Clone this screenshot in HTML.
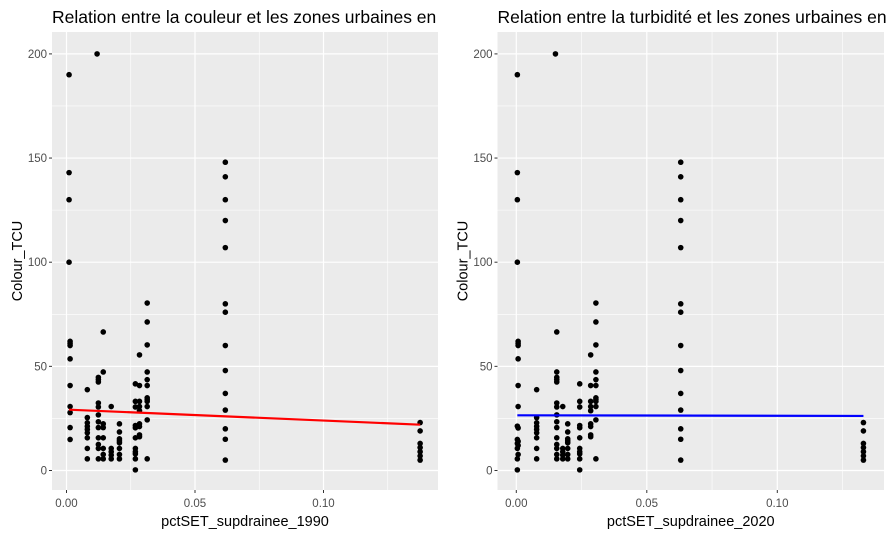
<!DOCTYPE html>
<html><head><meta charset="utf-8"><style>
body{margin:0;background:#fff;}
svg{display:block;font-family:"Liberation Sans",Arial,sans-serif;}
</style></head><body>
<svg id="chart" width="892" height="535"></svg>
<script>
// Left panel data (1990)
const leftX = [0.0010,0.0010,0.0010,0.0010,0.0014,0.0014,0.0014,0.0014,0.0014,0.0014,0.0014,0.0014,0.0014,
 0.0081,0.0081,0.0081,0.0081,0.0081,0.0081,0.0081,0.0081,0.0081,
 0.0119,0.0124,0.0124,0.0124,0.0124,0.0124,0.0124,0.0124,0.0124,0.0124,0.0124,0.0124,0.0124,
 0.0143,0.0143,0.0143,0.0143,0.0143,0.0143,0.0143,0.0143,
 0.0174,0.0174,0.0174,0.0174,0.0174,
 0.0206,0.0206,0.0206,0.0206,0.0206,0.0206,0.0206,0.0206,
 0.0268,0.0268,0.0268,0.0268,0.0268,0.0268,0.0268,0.0268,0.0268,0.0268,0.0268,
 0.0284,0.0284,0.0284,0.0284,0.0284,0.0284,0.0284,0.0284,0.0284,
 0.0314,0.0314,0.0314,0.0314,0.0314,0.0314,0.0314,0.0314,0.0314,0.0314,0.0314,0.0314,
 0.0618,0.0618,0.0618,0.0618,0.0618,0.0618,0.0618,0.0618,0.0618,0.0618,0.0618,0.0618,0.0618,0.0618,
 0.1376,0.1376,0.1376,0.1376,0.1376,0.1376,0.1376];
const leftY = [190,143,130,100,62,61,60,53.6,40.8,30.7,27.8,20.6,14.9,
 10.6,38.8,25.4,22.9,21.2,19.7,18.1,15.7,5.6,
 200,44.7,43.6,42.5,32.4,30.5,26.7,23.4,20.6,15.7,12.5,10.6,5.6,
 66.5,47.3,22.4,20.6,15.7,10.6,7.7,5.6,
 30.7,10.6,9,7.4,5.6,
 22.4,18.5,15.2,14.2,13.3,10.6,7.7,5.6,
 41.6,33.2,30.5,21.6,20.5,15.7,10.6,9,8,5.6,0.3,
 55.5,40.8,33.2,30.7,28.7,22.4,21.1,17.1,16.2,
 80.4,71.3,60.3,47.3,43.6,40.8,34.9,34.1,33.2,30.7,24.3,5.6,
 148,141,130,120,107,80,76,60,48,37,29,20,15,5,
 23,19,13,11,9,7,5];
const leftFitX = [0.0010,0.1376];
const leftFitY = [29.2,22.0];

// Right panel data (2020)
const rightX = [0.0004,0.0004,0.0004,0.0004,0.0007,0.0007,0.0007,0.0007,0.0007,0.0007,0.0004,0.0007,0.0004,0.0007,0.0004,0.0007,0.0004,0.0007,0.0004,0.0004,
 0.0078,0.0078,0.0078,0.0078,0.0078,0.0078,0.0078,0.0078,0.0078,
 0.0150,0.0155,0.0155,0.0155,0.0155,0.0155,0.0155,0.0155,0.0155,0.0155,0.0155,0.0155,0.0155,0.0155,0.0155,0.0155,
 0.0178,0.0178,0.0178,0.0178,0.0178,
 0.0197,0.0197,0.0197,0.0197,0.0197,0.0197,0.0197,0.0197,
 0.0243,0.0243,0.0243,0.0243,0.0243,0.0243,0.0243,0.0243,0.0243,0.0243,0.0243,
 0.0285,0.0285,0.0285,0.0285,0.0285,0.0285,0.0285,0.0285,0.0285,
 0.0305,0.0305,0.0305,0.0305,0.0305,0.0305,0.0305,0.0305,0.0305,0.0305,0.0305,0.0305,
 0.063,0.063,0.063,0.063,0.063,0.063,0.063,0.063,0.063,0.063,0.063,0.063,0.063,0.063,
 0.133,0.133,0.133,0.133,0.133,0.133,0.133];
const rightY = [190,143,130,100,62,61,60,53.6,40.8,30.7,21.3,20.4,14.9,14,13,12,10.6,7.7,5.6,0.3,
 38.8,25.4,22.9,21.2,19.7,18.1,15.7,10.6,5.6,
 200,66.5,47.3,44.7,43.6,42.5,32.4,30.5,26.7,23.4,20.6,15.7,12.5,10.6,7.7,5.6,
 30.7,10.6,9,7.4,5.6,
 22.4,18.5,15.2,14.2,13.3,10.6,7.7,5.6,
 41.6,33.2,30.5,21.6,20.5,15.7,10.6,9,8,5.6,0.3,
 55.5,40.8,33.2,30.7,28.7,22.4,21.1,17.1,16.2,
 80.4,71.3,60.3,47.3,43.6,40.8,34.9,34.1,33.2,30.7,24.3,5.6,
 148,141,130,120,107,80,76,60,48,37,29,20,15,5,
 23,19,13,11,9,7,5];
const rightFitX = [0.0004,0.133];
const rightFitY = [26.5,26.2];

const xTicks = [0, 0.05, 0.10];
const xTickLabels = ["0.00","0.05","0.10"];
const yTicks = [0,50,100,150,200];
const yTickLabels = ["0","50","100","150","200"];

const NS="http://www.w3.org/2000/svg";
const svg=document.getElementById('chart');
function mk(tag,attrs,parent){const e=document.createElementNS(NS,tag);for(const k in attrs)e.setAttribute(k,attrs[k]);(parent||svg).appendChild(e);return e;}

function panel(o){
  const g=mk('g',{});
  
  
  const L=o.left,R=o.right,T=32,B=490;
  const sx=v=>o.x0+v*o.k;
  const sy=v=>470.5-v*2.083;
  const bg=mk('rect',{x:L,y:T,width:R-L,height:B-T,fill:'#EBEBEB'},g);
  
  
  for(let i=0;i<xTicks.length;i++){const v=xTicks[i]+0.025;if(sx(v)<R)mk('line',{x1:sx(v),x2:sx(v),y1:T,y2:B,stroke:'#fff','stroke-width':0.6},g);}
  for(let i=0;i<yTicks.length-1;i++){const v=yTicks[i]+25;mk('line',{x1:L,x2:R,y1:sy(v),y2:sy(v),stroke:'#fff','stroke-width':0.6},g);}
  xTicks.forEach((v,i)=>{
    mk('line',{x1:sx(v),x2:sx(v),y1:T,y2:B,stroke:'#fff','stroke-width':1.2},g);
    mk('line',{x1:sx(v),x2:sx(v),y1:B,y2:B+3,stroke:'#333','stroke-width':1},g);
    const t=mk('text',{x:sx(v),y:507,'text-anchor':'middle','font-size':11.5,fill:'#4D4D4D'},g);
    t.textContent=xTickLabels[i];
    
    
  });
  yTicks.forEach((v,i)=>{
    mk('line',{x1:L,x2:R,y1:sy(v),y2:sy(v),stroke:'#fff','stroke-width':1.2},g);
    mk('line',{x1:L-3,x2:L,y1:sy(v),y2:sy(v),stroke:'#333','stroke-width':1},g);
    const t=mk('text',{x:L-5,y:sy(v)+4,'text-anchor':'end','font-size':11.5,fill:'#4D4D4D'},g);
    t.textContent=yTickLabels[i];
    
    
  });
  o.xs.forEach((x,i)=>{
    const c=mk('circle',{cx:sx(x),cy:sy(o.ys[i]),r:2.8,fill:'#000'},g);
    
    
  });
  const ln=mk('line',{x1:sx(o.fx[0]),y1:sy(o.fy[0]),x2:sx(o.fx[1]),y2:sy(o.fy[1]),stroke:o.color,'stroke-width':2.2},g);
  
  
  const xt=mk('text',{x:(L+R)/2,y:526,'text-anchor':'middle','font-size':14.5,fill:'#000'},g);
  xt.textContent=o.xlabel;
  
  
  const yt=mk('text',{x:0,y:0,'text-anchor':'middle','font-size':14.5,fill:'#000',transform:`translate(${L-30},${(T+B)/2}) rotate(-90)`},g);
  yt.textContent='Colour_TCU';
  
  
  const tt=mk('text',{x:L,y:23,'font-size':17.5,fill:'#000'},g);
  tt.textContent=o.title;
  
  
}
panel({name:'panel-1990',left:52,right:438,x0:66.5,k:2570,xs:leftX,ys:leftY,fx:leftFitX,fy:leftFitY,color:'#FF0000',xlabel:'pctSET_supdrainee_1990',title:'Relation entre la couleur et les zones urbaines en'});
panel({name:'panel-2020',left:497.5,right:884,x0:516.3,k:2610,xs:rightX,ys:rightY,fx:rightFitX,fy:rightFitY,color:'#0000FF',xlabel:'pctSET_supdrainee_2020',title:'Relation entre la turbidité et les zones urbaines en'});
</script>
</body></html>
